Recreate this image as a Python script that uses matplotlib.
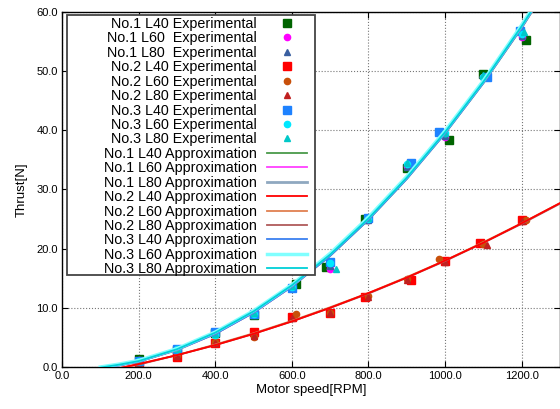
import numpy as np
import matplotlib
matplotlib.use("Agg")
import matplotlib.pyplot as plt
from matplotlib.patches import Rectangle

plt.rcParams['font.family'] = ['Liberation Sans', 'DejaVu Sans']

# measured points (motor speed [RPM], thrust [N])
rpm_1_40 = [200, 300, 400, 500, 610, 690, 790, 900, 1010, 1100, 1210]
thr_1_40 = [1.3, 2.9, 5.7, 8.8, 14.0, 16.9, 25.0, 33.6, 38.3, 49.5, 55.3]
rpm_1_60 = [200, 300, 400, 500, 600, 700, 800, 900, 1000, 1100, 1200]
thr_1_60 = [1.1, 3.0, 5.6, 8.9, 13.6, 16.5, 24.8, 34.0, 38.9, 49.0, 55.8]
rpm_1_80 = [200, 300, 400, 500, 600, 700, 800, 900, 1000, 1100, 1200]
thr_1_80 = [1.0, 2.9, 5.5, 8.8, 13.5, 17.0, 24.9, 33.8, 39.0, 49.2, 55.9]
rpm_2_40 = [200, 300, 400, 500, 600, 700, 790, 910, 1000, 1090, 1200]
thr_2_40 = [0.2, 1.7, 4.1, 5.9, 8.5, 9.1, 11.8, 14.7, 17.9, 20.9, 24.8]
rpm_2_60 = [200, 300, 400, 500, 610, 700, 800, 900, 985, 1100, 1210]
thr_2_60 = [0.3, 1.9, 4.3, 5.0, 8.9, 9.2, 12.0, 14.8, 18.2, 20.8, 24.8]
rpm_2_80 = [200, 300, 400, 500, 600, 700, 800, 900, 1000, 1110, 1200]
thr_2_80 = [0.3, 1.8, 4.0, 5.2, 8.3, 9.2, 11.9, 14.7, 17.8, 20.6, 24.7]
rpm_3_40 = [200, 300, 400, 500, 600, 700, 800, 910, 985, 1110, 1195]
thr_3_40 = [1.0, 3.0, 5.9, 9.0, 13.4, 17.8, 25.2, 34.5, 39.7, 49.0, 56.8]
rpm_3_60 = [200, 300, 400, 500, 600, 700, 800, 900, 1000, 1100, 1200]
thr_3_60 = [1.0, 3.0, 5.4, 9.0, 13.6, 17.5, 25.0, 34.3, 39.5, 49.0, 56.2]
rpm_3_80 = [200, 300, 400, 500, 600, 715, 800, 900, 1000, 1100, 1205]
thr_3_80 = [1.0, 3.0, 5.6, 9.1, 13.7, 16.5, 25.1, 34.4, 39.6, 49.3, 56.6]

# approximation curves
rpm_up = [100, 150, 200, 300, 400, 500, 600, 700, 800, 900, 1000, 1100, 1200, 1300]
app_1_40 = [-0.2, 0.3, 0.9, 2.9, 5.6, 9.2, 13.6, 18.8, 24.9, 31.8, 39.5, 48.0, 57.3, 67.5]
app_1_60 = [-0.2, 0.3, 0.9, 2.9, 5.6, 9.2, 13.6, 18.9, 25.0, 31.9, 39.6, 48.1, 57.4, 67.6]
app_1_80 = [-0.1, 0.3, 1.0, 2.9, 5.7, 9.3, 13.7, 18.9, 25.0, 31.9, 39.6, 48.1, 57.5, 67.7]
app_3_40 = [-0.2, 0.3, 0.9, 2.9, 5.6, 9.2, 13.6, 18.8, 24.9, 31.8, 39.5, 48.0, 57.4, 67.6]
app_3_60 = [0.0, 0.5, 1.1, 3.1, 5.9, 9.5, 13.9, 19.2, 25.3, 32.2, 39.9, 48.4, 57.8, 68.0]
app_3_80 = [-0.1, 0.4, 1.0, 3.0, 5.8, 9.4, 13.8, 19.0, 25.1, 32.0, 39.7, 48.2, 57.6, 67.8]
rpm_lo = [150, 200, 300, 400, 500, 600, 700, 800, 900, 1000, 1100, 1200, 1300]
app_2_40 = [-0.2, 0.5, 2.0, 3.7, 5.6, 7.7, 10.0, 12.5, 15.1, 18.0, 21.0, 24.3, 27.7]
app_2_60 = [-0.2, 0.5, 2.0, 3.8, 5.7, 7.8, 10.1, 12.5, 15.2, 18.0, 21.1, 24.3, 27.7]
app_2_80 = [-0.2, 0.4, 2.0, 3.7, 5.6, 7.7, 10.0, 12.4, 15.1, 17.9, 21.0, 24.2, 27.6]

fig = plt.figure(figsize=(5.6, 4.09), dpi=100)
ax = fig.add_axes([0.1107, 0.1027, 0.8893, 0.868])

exp = [
    (rpm_1_40, thr_1_40, 's', '#006400', 6, "No.1 L40 Experimental"),
    (rpm_1_60, thr_1_60, 'o', '#ff00ff', 4.5, "No.1 L60  Experimental"),
    (rpm_1_80, thr_1_80, '^', '#3a5fa0', 4, "No.1 L80  Experimental"),
    (rpm_2_40, thr_2_40, 's', '#ff0000', 6, "No.2 L40 Experimental"),
    (rpm_2_60, thr_2_60, 'o', '#c8500a', 4.5, "No.2 L60 Experimental"),
    (rpm_2_80, thr_2_80, '^', '#c02020', 4, "No.2 L80 Experimental"),
    (rpm_3_40, thr_3_40, 's', '#1e82ff', 6, "No.3 L40 Experimental"),
    (rpm_3_60, thr_3_60, 'o', '#00e8ff', 4.5, "No.3 L60 Experimental"),
    (rpm_3_80, thr_3_80, '^', '#00c8c8', 4, "No.3 L80 Experimental"),
]
for x, y, m, c, s, lab in exp:
    ax.plot(x, y, ls='none', marker=m, color=c, markersize=s, label=lab)

app = [
    (rpm_up, app_1_40, '#4a9a4a', 1.3, 3, "No.1 L40 Approximation"),
    (rpm_up, app_1_60, '#ff40ff', 1.3, 3, "No.1 L60 Approximation"),
    (rpm_up, app_1_80, '#8fa8c0', 2.0, 3, "No.1 L80 Approximation"),
    (rpm_lo, app_2_40, '#ff0000', 1.3, 4, "No.2 L40 Approximation"),
    (rpm_lo, app_2_60, '#e08050', 1.3, 3, "No.2 L60 Approximation"),
    (rpm_lo, app_2_80, '#b05a5a', 1.3, 3, "No.2 L80 Approximation"),
    (rpm_up, app_3_40, '#3a80f0', 1.3, 3, "No.3 L40 Approximation"),
    (rpm_up, app_3_60, '#80ffff', 2.5, 3, "No.3 L60 Approximation"),
    (rpm_up, app_3_80, '#00d0d8', 1.3, 3, "No.3 L80 Approximation"),
]
for x, y, c, lw, z, lab in app:
    ax.plot(x, y, color=c, lw=lw, zorder=z, label=lab)

ax.set_xlim(0, 1300)
ax.set_ylim(0, 60)
ax.set_xticks(np.arange(0, 1201, 200))
ax.set_yticks(np.arange(0, 61, 10))
ax.xaxis.set_major_formatter(matplotlib.ticker.FormatStrFormatter('%.1f'))
ax.yaxis.set_major_formatter(matplotlib.ticker.FormatStrFormatter('%.1f'))
ax.tick_params(direction='in', top=True, right=True, length=4, labelsize=8, pad=3)
ax.grid(True, ls=':', color='#777777', lw=0.8)
for sp in ax.spines.values():
    sp.set_linewidth(1.0)

ax.set_xlabel("Motor speed[RPM]", fontsize=9.5, labelpad=2)
ax.set_ylabel("Thrust[N]", fontsize=9.5, labelpad=6)

# legend box (gnuplot style, wide with empty space on the left)
box = Rectangle((0.01, 0.259), 0.498, 0.7325, transform=ax.transAxes,
                facecolor='white', edgecolor='#444444', lw=1.3, zorder=4)
ax.add_patch(box)

leg = ax.legend(loc='upper right', bbox_to_anchor=(0.492, 0.986), borderaxespad=0,
                fontsize=10.3, markerfirst=False, labelspacing=0.03,
                handlelength=2.8, handletextpad=0.7, borderpad=0,
                frameon=False)
leg.set_zorder(5)
for t in leg.get_texts():
    t.set_ha('right')

fig.savefig("out.png", dpi=100)
